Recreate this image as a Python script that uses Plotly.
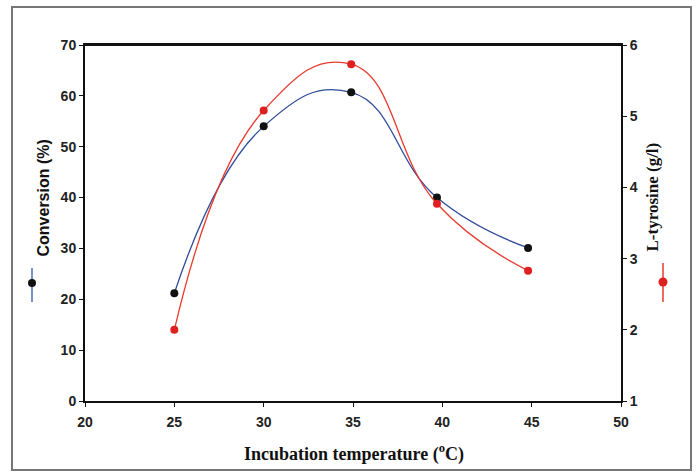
import plotly.graph_objects as go

temperature = [25, 30, 34.9, 39.7, 44.8]
conversion = [21.2, 54.0, 60.7, 40.0, 30.1]
tyrosine = [2.0, 5.08, 5.73, 3.77, 2.83]

x_ticks = [20, 25, 30, 35, 40, 45, 50]
left_ticks = [0, 10, 20, 30, 40, 50, 60, 70]
right_ticks = [1, 2, 3, 4, 5, 6]

W, H = 697, 472
L, R, T, B = 85, 76, 45, 71
PW, PH = W - L - R, H - T - B

def px(x):
    return (x - L) / PW

def py(y):
    return (H - B - y) / PH

fig = go.Figure()
fig.add_trace(go.Scatter(
    x=temperature, y=conversion, mode="lines+markers",
    line=dict(color="#2f4c9a", width=1.3, shape="spline", smoothing=1.3),
    marker=dict(color="#111111", size=8), name="Conversion", yaxis="y"))
fig.add_trace(go.Scatter(
    x=temperature, y=tyrosine, mode="lines+markers",
    line=dict(color="#e83a2e", width=1.3, shape="spline", smoothing=1.3),
    marker=dict(color="#e02020", size=8), name="L-tyrosine", yaxis="y2"))

tickfont = dict(family="Liberation Sans, Arial", size=14, color="#222222", weight="bold")
fig.update_layout(
    width=W, height=H,
    margin=dict(l=L, r=R, t=T, b=B),
    paper_bgcolor="white", plot_bgcolor="white",
    showlegend=False,
    xaxis=dict(range=[20, 50], tickvals=x_ticks, ticks="outside", ticklen=4,
               tickcolor="#111", showline=True, linecolor="#111", linewidth=2,
               mirror=True, showgrid=False, zeroline=False, ticklabelstandoff=3,
               tickfont=tickfont),
    yaxis=dict(range=[0, 70], tickvals=left_ticks, ticks="outside", ticklen=4,
               tickcolor="#111", showline=True, linecolor="#111", linewidth=2,
               showgrid=False, zeroline=False, tickfont=tickfont),
    yaxis2=dict(range=[1, 6], tickvals=right_ticks, overlaying="y", side="right",
                ticks="outside", ticklen=4, tickcolor="#111", showline=True,
                linecolor="#111", linewidth=2, showgrid=False, zeroline=False,
                tickfont=tickfont),
)

# top frame line
fig.add_shape(type="line", xref="paper", yref="paper", x0=0, x1=1, y0=1, y1=1,
              line=dict(color="#111", width=2))

# outer border
fig.add_shape(type="rect", xref="paper", yref="paper",
              x0=px(12), x1=px(691), y0=py(470), y1=py(7),
              line=dict(color="#777777", width=2), layer="below")

# axis titles
fig.add_annotation(text="<b>Conversion (%)</b>", xref="paper", yref="paper",
                   x=px(32), y=py(198), textangle=-90, showarrow=False,
                   font=dict(family="Liberation Sans, Arial", size=16, color="#111"))
fig.add_annotation(text="<b>L-tyrosine (g/l)</b>", xref="paper", yref="paper",
                   x=px(663), y=py(197), textangle=-90, showarrow=False,
                   font=dict(family="Liberation Serif, Times New Roman", size=17, color="#111"))
fig.add_annotation(text="<b>Incubation temperature (<sup>o</sup>C)</b>", xref="paper",
                   yref="paper", x=px(354), y=py(467), yanchor="bottom", showarrow=False,
                   font=dict(family="Liberation Serif, Times New Roman", size=18, color="#111"))

# legend icons
fig.add_shape(type="line", xref="paper", yref="paper", x0=px(32), x1=px(32),
              y0=py(268), y1=py(302), line=dict(color="#4a6fb5", width=1.5))
fig.add_shape(type="circle", xref="paper", yref="paper", xsizemode="pixel",
              ysizemode="pixel", xanchor=px(32), yanchor=py(283),
              x0=-4, x1=4, y0=-4, y1=4, fillcolor="#111", line=dict(width=0))
fig.add_shape(type="line", xref="paper", yref="paper", x0=px(663), x1=px(663),
              y0=py(263), y1=py(302), line=dict(color="#e83a2e", width=1.5))
fig.add_shape(type="circle", xref="paper", yref="paper", xsizemode="pixel",
              ysizemode="pixel", xanchor=px(663), yanchor=py(282),
              x0=-4.5, x1=4.5, y0=-4.5, y1=4.5, fillcolor="#e02020", line=dict(width=0))

fig.write_html("out.html", config={"displayModeBar": False},
               post_script="document.body.style.margin='0';")
